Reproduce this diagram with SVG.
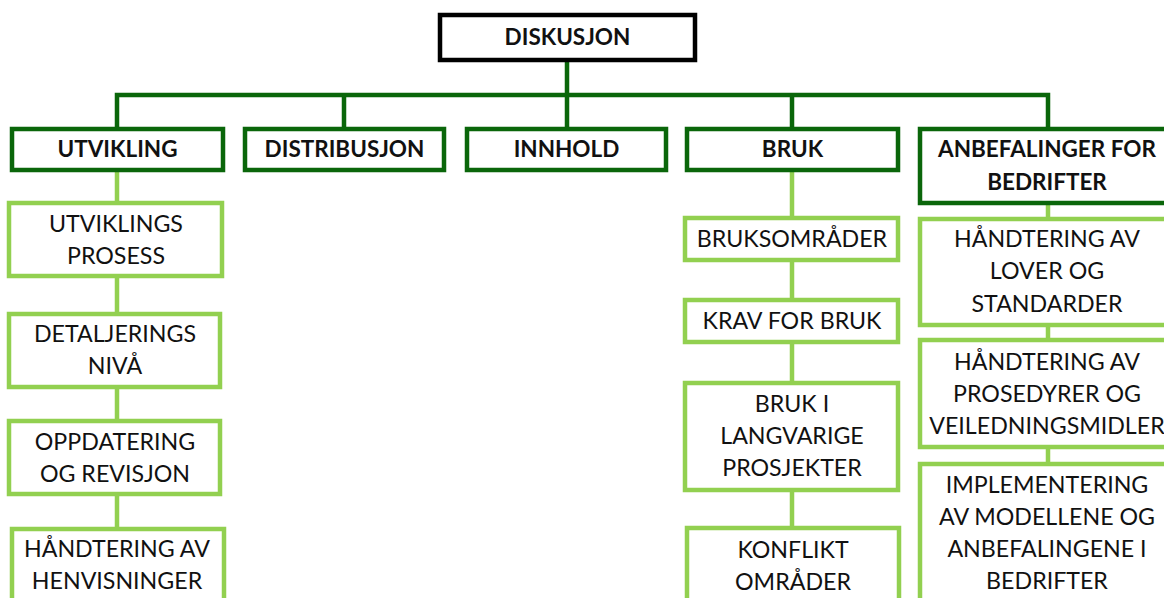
<svg xmlns="http://www.w3.org/2000/svg" width="1164" height="598" viewBox="0 0 1164 598">
<style>
.bg{fill:#ffffff}
.root{fill:#ffffff;stroke:#000000;stroke-width:4.5}
.l1{fill:#ffffff;stroke:#0a660a;stroke-width:4.5}
.l2{fill:#ffffff;stroke:#92d050;stroke-width:4.5}
.c1{fill:none;stroke:#0a660a;stroke-width:4.5;stroke-linejoin:miter}
.c2{fill:none;stroke:#92d050;stroke-width:4.5}
text{font-family:Lato,"Open Sans","Liberation Sans",sans-serif;text-anchor:middle;fill:#111111}
.b{font-weight:bold;font-size:22.5px}
.r{font-size:23.2px}
</style>
<rect class="bg" x="0" y="0" width="1164" height="598"/>
<g id="connectors">
<path class="c1" d="M567 60 V127 M117 127 V95 H1048 V127 M344 95 V127 M792 95 V127"/>
<path class="c2" d="M117 170 V540 M792 170 V540 M1048 203 V475"/>
</g>
<g id="node-diskusjon"><rect class="root" x="440" y="15" width="255" height="45"/><text class="b" x="567.5" y="45">DISKUSJON</text></g>
<g id="node-utvikling"><rect class="l1" x="12" y="129" width="211" height="41"/><text class="b" x="117.5" y="157">UTVIKLING</text></g>
<g id="node-distribusjon"><rect class="l1" x="245" y="129" width="199" height="41"/><text class="b" x="344.5" y="157">DISTRIBUSJON</text></g>
<g id="node-innhold"><rect class="l1" x="467" y="129" width="199" height="41"/><text class="b" x="566.5" y="157">INNHOLD</text></g>
<g id="node-bruk"><rect class="l1" x="687" y="129" width="211" height="41"/><text class="b" x="792.5" y="157">BRUK</text></g>
<g id="node-anbefalinger"><rect class="l1" x="920" y="129" width="254" height="74"/><text class="b" x="1047" y="157">ANBEFALINGER FOR</text><text class="b" x="1047" y="190">BEDRIFTER</text></g>
<g id="node-utviklingsprosess"><rect class="l2" x="9" y="203" width="213" height="73"/><text class="r" x="116" y="232">UTVIKLINGS</text><text class="r" x="116" y="264">PROSESS</text></g>
<g id="node-detaljeringsniva"><rect class="l2" x="9" y="314" width="211" height="73"/><text class="r" x="115" y="342">DETALJERINGS</text><text class="r" x="115" y="374">NIVÅ</text></g>
<g id="node-oppdatering"><rect class="l2" x="9" y="421" width="211" height="73"/><text class="r" x="115" y="450">OPPDATERING</text><text class="r" x="115" y="482">OG REVISJON</text></g>
<g id="node-henvisninger"><rect class="l2" x="12" y="529" width="212" height="80"/><text class="r" x="117" y="557">HÅNDTERING AV</text><text class="r" x="117" y="589">HENVISNINGER</text></g>
<g id="node-bruksomrader"><rect class="l2" x="685" y="218" width="213" height="42"/><text class="r" x="792" y="247">BRUKSOMRÅDER</text></g>
<g id="node-krav"><rect class="l2" x="685" y="300" width="213" height="42"/><text class="r" x="792" y="329">KRAV FOR BRUK</text></g>
<g id="node-langvarige"><rect class="l2" x="685" y="383" width="213" height="107"/><text class="r" x="792" y="412">BRUK I</text><text class="r" x="792" y="444">LANGVARIGE</text><text class="r" x="792" y="476">PROSJEKTER</text></g>
<g id="node-konflikt"><rect class="l2" x="687" y="528" width="212" height="80"/><text class="r" x="793" y="558">KONFLIKT</text><text class="r" x="793" y="590">OMRÅDER</text></g>
<g id="node-lover"><rect class="l2" x="920" y="219" width="254" height="106"/><text class="r" x="1047" y="247">HÅNDTERING AV</text><text class="r" x="1047" y="279">LOVER OG</text><text class="r" x="1047" y="312">STANDARDER</text></g>
<g id="node-prosedyrer"><rect class="l2" x="920" y="340" width="254" height="107"/><text class="r" x="1047" y="370">HÅNDTERING AV</text><text class="r" x="1047" y="402">PROSEDYRER OG</text><text class="r" x="1047" y="434">VEILEDNINGSMIDLER</text></g>
<g id="node-implementering"><rect class="l2" x="920" y="464" width="254" height="150"/><text class="r" x="1047" y="493">IMPLEMENTERING</text><text class="r" x="1047" y="525">AV MODELLENE OG</text><text class="r" x="1047" y="557">ANBEFALINGENE I</text><text class="r" x="1047" y="589">BEDRIFTER</text></g>
</svg>
